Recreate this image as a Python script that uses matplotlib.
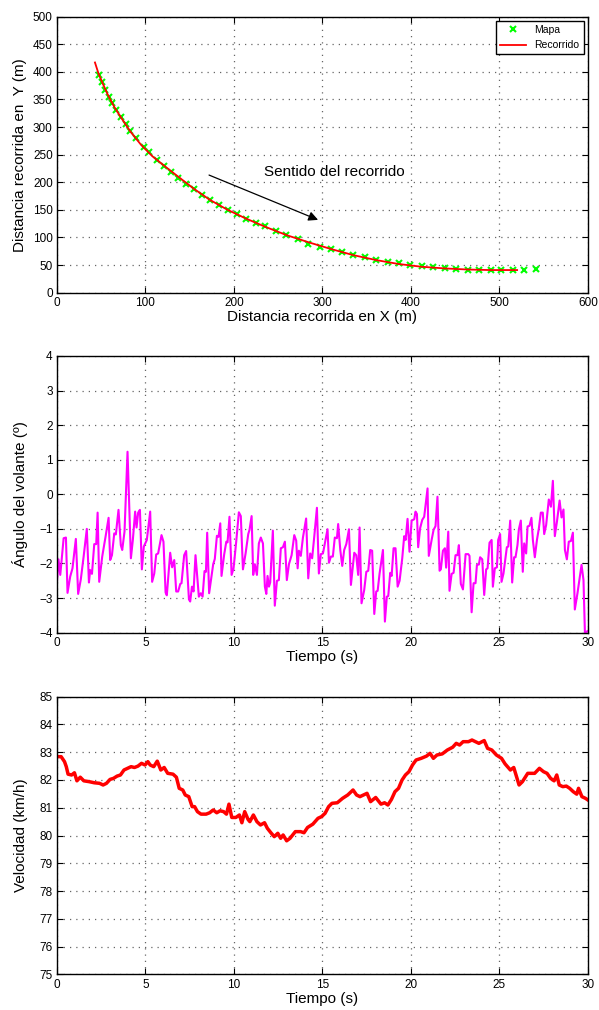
import matplotlib
matplotlib.use("Agg")
import matplotlib.pyplot as plt

plt.rcParams['font.family'] = ['Liberation Sans', 'DejaVu Sans']

# --- Datos: mapa y recorrido (m) ---
mapa_x = [47.5, 50.5, 54.8, 58.3, 62.6, 66.9, 72.5, 77.7, 82.9, 89.4, 98, 104.5, 113, 121,
          128.6, 136.8, 146.3, 155, 164, 172.7, 183, 193.4, 203.8, 214, 224.5, 234.8, 247,
          259, 272, 284, 297, 310, 322, 335, 348, 361, 374, 386, 399, 412, 425, 438, 451,
          464, 477, 490, 502, 515, 528, 541]
mapa_y = [394, 382, 368, 355, 343, 331, 318, 306, 292, 280, 264, 254, 240, 230, 219, 207,
          197, 187, 177, 168, 159, 150, 142, 134, 127, 120, 112, 104, 97, 89, 83, 78.5, 74,
          68, 64, 59, 56, 53, 49.5, 48, 46, 45, 43.5, 42, 41, 41, 41, 41, 42, 43.5]

rec_x = [43, 47, 52, 58, 65, 73, 83, 95, 108, 122, 138, 155, 173, 193, 214, 236, 260, 285,
         310, 335, 361, 386, 412, 438, 464, 490, 520]
rec_y = [417, 397, 378, 357, 336, 316, 292, 268, 247, 229, 209, 188, 168, 150, 134, 119, 104,
         91, 79, 68, 59, 52, 47, 44, 42, 41, 41]

# --- Ángulo del volante (º) ---
ang_t = [0.0, 0.09, 0.19, 0.38, 0.51, 0.6, 0.75, 0.88, 1.07, 1.2, 1.35, 1.51, 1.69, 1.81, 1.88,
         1.98, 2.11, 2.22, 2.3, 2.39, 2.56, 2.75, 2.92, 3.01, 3.11, 3.24, 3.33, 3.48, 3.61, 3.69,
         3.82, 3.99, 4.18, 4.29, 4.42, 4.5, 4.59, 4.69, 4.8, 4.91,
         5.08, 5.27, 5.38, 5.5, 5.61, 5.72, 5.91, 6.02, 6.14, 6.21, 6.4, 6.51, 6.63, 6.74, 6.85,
         6.97, 7.04, 7.19, 7.3, 7.46, 7.53, 7.63, 7.72, 7.83, 8.02, 8.13, 8.23, 8.34, 8.42, 8.49,
         8.6, 8.83, 8.92, 9.04, 9.13, 9.23, 9.3, 9.45, 9.57, 9.64, 9.75, 9.87, 9.98,
         10.13, 10.28, 10.39, 10.51, 10.66, 10.81, 10.88, 11.0, 11.09, 11.18, 11.3, 11.41, 11.52,
         11.64, 11.75, 11.83, 11.9, 11.98, 12.05, 12.2, 12.31, 12.43, 12.54, 12.65, 12.77, 12.88,
         12.99, 13.11, 13.26, 13.41, 13.52, 13.6, 13.67, 13.78, 13.9, 14.08, 14.2, 14.31, 14.42,
         14.54, 14.69, 14.8, 14.91, 15.03,
         15.29, 15.37, 15.48, 15.59, 15.7, 15.82, 15.89, 16.01, 16.12, 16.23, 16.35, 16.5, 16.61,
         16.8, 16.91, 17.02, 17.1, 17.21, 17.36, 17.48, 17.59, 17.7, 17.81, 17.93, 18.04, 18.12,
         18.23, 18.42, 18.53, 18.64, 18.72, 18.83, 18.91, 19.02, 19.13, 19.25, 19.36, 19.51,
         19.62, 19.7, 19.81, 19.92, 20.04, 20.19,
         20.26, 20.34, 20.41, 20.52, 20.64, 20.75, 20.94, 21.01, 21.17, 21.28, 21.39, 21.5, 21.62,
         21.69, 21.81, 21.92, 21.99, 22.11, 22.18, 22.3, 22.41, 22.52, 22.63, 22.71, 22.82, 22.94,
         23.09, 23.24, 23.31, 23.43, 23.54, 23.65, 23.73, 23.84, 23.91, 24.03, 24.14, 24.25,
         24.33, 24.44, 24.56, 24.63, 24.74, 24.86, 24.93, 25.04, 25.12, 25.23,
         25.42, 25.5, 25.61, 25.72, 25.83, 25.91, 26.02, 26.1, 26.21, 26.32, 26.4, 26.51, 26.59,
         26.7, 26.81, 26.89, 27.0, 27.12, 27.23, 27.34, 27.45, 27.53, 27.64, 27.79, 27.91, 28.02,
         28.13, 28.25, 28.4, 28.51, 28.62, 28.7, 28.81, 28.92, 29.04, 29.15, 29.26, 29.41, 29.53,
         29.64, 29.75, 29.83, 30.0]
ang_v = [-2.55, -1.88, -2.33, -1.27, -1.25, -2.85, -2.38, -2.14, -1.29, -2.88, -2.46, -1.8,
         -1.0, -2.55, -2.19, -2.3, -1.44, -1.44, -0.53, -2.53, -1.8, -1.22, -0.68, -1.9, -1.76,
         -1.13, -1.16, -0.45, -1.47, -1.61, -1.08, 1.23, -1.85, -1.32, -0.5, -0.96, -0.53, -0.45,
         -2.17, -1.51,
         -1.32, -0.5, -2.53, -2.29, -1.74, -1.71, -1.18, -1.37, -2.84, -2.92, -1.69, -2.11, -1.9,
         -2.81, -2.81, -2.59, -2.57, -1.76, -1.64, -3.04, -3.1, -2.67, -2.81, -1.76, -2.96, -2.86,
         -2.96, -2.22, -2.24, -1.11, -2.86, -2.02, -1.87, -1.2, -1.23, -0.84, -2.36, -1.74, -1.37,
         -1.39, -0.65, -2.33, -2.14,
         -1.37, -0.52, -0.63, -2.17, -1.71, -1.15, -1.03, -0.63, -2.33, -2.02, -2.33, -1.42, -1.25,
         -1.42, -2.67, -2.88, -2.36, -2.67, -2.55, -1.05, -3.22, -2.5, -2.48, -1.56, -1.53, -1.37,
         -2.48, -2.02, -1.76, -1.18, -1.34, -2.14, -1.63, -1.78, -1.25, -0.7, -2.43, -1.71, -1.85,
         -1.22, -0.39, -2.29, -1.73, -1.71,
         -1.01, -1.98, -1.8, -1.8, -1.25, -1.27, -0.86, -1.61, -2.07, -1.61, -1.44, -1.01, -2.62,
         -1.69, -1.76, -2.33, -0.96, -3.15, -2.77, -2.24, -2.21, -1.61, -1.63, -3.46, -2.81, -2.79,
         -2.29, -1.61, -3.68, -2.96, -2.94, -2.27, -2.36, -1.56, -1.56, -2.67, -2.5, -1.85, -1.21,
         -1.32, -0.71, -1.66, -0.76, -0.72,
         -0.5, -0.57, -1.53, -0.98, -0.74, -0.65, 0.17, -1.78, -1.32, -1.03, -0.92, -0.07, -2.21,
         -2.17, -1.63, -1.56, -2.12, -1.08, -2.79, -2.3, -2.27, -1.76, -1.76, -1.47, -2.59, -2.75,
         -1.73, -1.73, -1.78, -3.41, -2.57, -2.57, -2.04, -2.03, -1.82, -1.88, -2.91, -2.17, -2.14,
         -1.4, -1.32, -2.67, -2.14, -2.11, -1.32, -1.15, -2.53, -2.29,
         -1.53, -1.51, -0.76, -2.55, -1.82, -1.82, -1.47, -1.01, -0.76, -2.24, -1.42, -1.71, -0.93,
         -0.91, -0.68, -1.32, -1.82, -1.32, -0.98, -0.53, -0.53, -1.15, -0.89, -0.15, -0.36, 0.39,
         -1.21, -0.79, -0.18, -0.67, -0.44, -1.61, -1.88, -1.37, -1.35, -1.11, -3.33, -2.86, -2.43,
         -2.04, -2.48, -4.0, -3.95]

# --- Velocidad (km/h) ---
vel_t = [0.0, 0.24, 0.43, 0.53, 0.63, 0.83, 0.99, 1.13, 1.32, 1.52, 1.82, 2.11, 2.41, 2.61, 2.8,
         3.0, 3.2, 3.4, 3.59, 3.79, 3.99, 4.19, 4.38, 4.58, 4.78, 4.98, 5.14, 5.27, 5.47, 5.67,
         5.87, 6.06, 6.26, 6.56, 6.75, 6.91, 7.11, 7.25, 7.45, 7.64, 7.78, 7.94, 8.14, 8.43, 8.63,
         8.83, 9.03, 9.22, 9.42, 9.58, 9.72, 9.88, 10.11, 10.31, 10.45, 10.61, 10.8, 10.9, 11.1,
         11.3, 11.5, 11.73, 11.89, 12.09, 12.28, 12.48, 12.64, 12.78, 12.98, 13.17, 13.47, 13.77,
         13.96, 14.16, 14.46, 14.75, 14.95, 15.15, 15.35, 15.54, 15.84, 16.14, 16.43, 16.73,
         16.93, 17.12, 17.32, 17.52, 17.72, 18.01, 18.31, 18.51, 18.7, 18.9, 19.1, 19.3, 19.5,
         19.69, 19.89, 20.09, 20.29, 20.58, 20.88, 21.08, 21.27, 21.47, 21.77, 22.06, 22.36,
         22.56, 22.75, 22.95, 23.25, 23.45, 23.64, 23.84, 24.14, 24.33, 24.57, 24.83, 25.12,
         25.32, 25.62, 25.81, 26.11, 26.3, 26.6, 26.99, 27.26, 27.49, 27.69, 27.89, 28.09, 28.24,
         28.38, 28.58, 28.78, 28.97, 29.17, 29.37, 29.47, 29.66, 29.86, 30.0]
vel_v = [82.84, 82.84, 82.66, 82.48, 82.21, 82.18, 82.26, 81.97, 82.1, 81.97, 81.94, 81.9,
         81.88, 81.82, 81.88, 82.02, 82.06, 82.14, 82.18, 82.36, 82.42, 82.48, 82.45, 82.5,
         82.6, 82.54, 82.66, 82.54, 82.48, 82.68, 82.36, 82.45, 82.24, 82.21, 82.1, 81.7, 81.64,
         81.46, 81.4, 81.04, 81.04, 80.86, 80.77, 80.77, 80.82, 80.92, 80.82, 80.89, 80.86,
         80.77, 81.13, 80.65, 80.65, 80.74, 80.46, 80.86, 80.58, 80.5, 80.74, 80.5, 80.38, 80.46,
         80.26, 80.1, 79.96, 80.08, 79.9, 80.02, 79.81, 79.9, 80.14, 80.14, 80.1, 80.29, 80.41,
         80.62, 80.68, 80.8, 81.04, 81.16, 81.18, 81.34, 81.46, 81.64, 81.46, 81.4, 81.46, 81.52,
         81.22, 81.37, 81.13, 81.18, 81.1, 81.3, 81.58, 81.7, 82.0, 82.18, 82.3, 82.54, 82.72,
         82.78, 82.86, 82.96, 82.78, 82.9, 82.94, 83.08, 83.18, 83.32, 83.26, 83.38, 83.38, 83.44,
         83.38, 83.32, 83.42, 83.14, 83.08, 82.9, 82.78, 82.58, 82.36, 82.45, 81.82, 81.94, 82.24,
         82.24, 82.42, 82.3, 82.24, 82.06, 81.97, 82.18, 81.82, 81.76, 81.78, 81.7, 81.58, 81.49,
         81.7, 81.4, 81.34, 81.28]


def estilo_matlab(ax):
    ax.grid(True, linestyle=(0, (1, 4)), color='#666666', linewidth=0.9)
    ax.tick_params(direction='in', top=True, right=True, length=4, labelsize=8.5, pad=3)
    for s in ax.spines.values():
        s.set_linewidth(1.0)


fig = plt.figure(figsize=(5.99, 10.10), dpi=100)

# --- Trayectoria ---
ax1 = fig.add_axes([0.095, 0.7102, 0.8865, 0.2733])
ax1.plot(mapa_x, mapa_y, 'x', color='#00ff00', markersize=5, mew=1.5, label='Mapa')
ax1.plot(rec_x, rec_y, '-', color='red', linewidth=1.3, label='Recorrido')
ax1.set_xlim(0, 600)
ax1.set_ylim(0, 500)
ax1.set_xticks(range(0, 601, 100))
ax1.set_yticks(range(0, 501, 50))
ax1.set_xlabel('Distancia recorrida en X (m)', fontsize=11, labelpad=1)
ax1.set_ylabel('Distancia recorrida en  Y (m)', fontsize=11, labelpad=4)
ax1.annotate('', xy=(298, 130), xytext=(169, 215),
             arrowprops=dict(arrowstyle='-|>', color='black', lw=0.9, mutation_scale=14))
ax1.text(314, 218, 'Sentido del recorrido', fontsize=11, ha='center', va='center')
leg = ax1.legend(loc='upper right', fontsize=7.5, fancybox=False, edgecolor='black',
                 framealpha=1, borderaxespad=0.4, handlelength=2.5)
leg.get_frame().set_linewidth(1.0)
estilo_matlab(ax1)

# --- Ángulo del volante ---
ax2 = fig.add_axes([0.095, 0.3736, 0.8865, 0.274])
ax2.plot(ang_t, ang_v, color='#ff00ff', linewidth=1.5)
ax2.set_xlim(0, 30)
ax2.set_ylim(-4, 4)
ax2.set_xticks(range(0, 31, 5))
ax2.set_yticks(range(-4, 5, 1))
ax2.set_xlabel('Tiempo (s)', fontsize=11, labelpad=1)
ax2.set_ylabel('Ángulo del volante (º)', fontsize=11, labelpad=8)
estilo_matlab(ax2)

# --- Velocidad ---
ax3 = fig.add_axes([0.095, 0.0353, 0.8865, 0.2749])
ax3.plot(vel_t, vel_v, color='red', linewidth=2.5)
ax3.set_xlim(0, 30)
ax3.set_ylim(75, 85)
ax3.set_xticks(range(0, 31, 5))
ax3.set_yticks(range(75, 86, 1))
ax3.set_xlabel('Tiempo (s)', fontsize=11, labelpad=1)
ax3.set_ylabel('Velocidad (km/h)', fontsize=11, labelpad=8)
estilo_matlab(ax3)

fig.savefig('out.png', dpi=100)
